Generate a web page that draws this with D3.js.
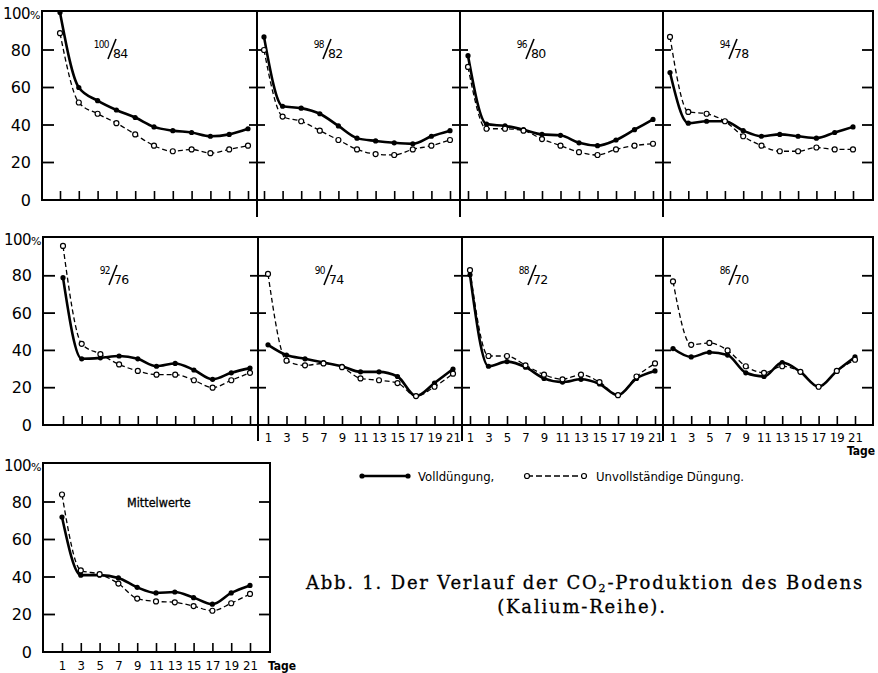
<!DOCTYPE html>
<html>
<head>
<meta charset="utf-8">
<script src="https://cdn.jsdelivr.net/npm/d3@7"></script>
<style>
  body { margin: 0; background: #fff; }
  svg { display: block; }
</style>
</head>
<body>
<div id="chart"></div>
<script>
// days on the x axis, tick values on the y axis
var days = [1, 3, 5, 7, 9, 11, 13, 15, 17, 19, 21];
var yTicks = [20, 40, 60, 80];
var yLabels = [0, 20, 40, 60, 80];

// panel titles (numerator / denominator)
var fractions = [["100", "84"], ["98", "82"], ["96", "80"], ["94", "78"],
                 ["92", "76"], ["90", "74"], ["88", "72"], ["86", "70"]];

// Volldüngung (solid) and Unvollständige Düngung (dashed), % per day
var voll1   = [100, 60, 53, 48, 44, 39, 37, 36, 34, 35, 38];
var unvoll1 = [89, 52, 46, 41, 35, 29, 26, 27, 25, 27, 29];
var voll2   = [87, 50, 49, 46, 39.5, 33, 31.5, 30.5, 30, 34, 37];
var unvoll2 = [80, 44.5, 42, 37, 32, 27, 24.5, 24, 27, 29, 32];
var voll3   = [77, 40.5, 39.5, 37.5, 35, 34.5, 30.5, 29, 32, 37.5, 43];
var unvoll3 = [71, 38, 38, 37, 32.5, 29, 25.5, 24, 27, 29, 30];
var voll4   = [68, 41, 42, 42, 37, 34, 35, 34, 33, 36, 39];
var unvoll4 = [87, 47, 46, 42, 34, 29, 26, 26, 28, 27, 27];
var voll5   = [79, 35.5, 36, 37, 35.5, 31.5, 33, 29.5, 24.5, 28, 30.5];
var unvoll5 = [96, 43.5, 38, 32.5, 29, 27, 27, 24, 20, 24, 28];
var voll6   = [43, 37.5, 35.5, 33.5, 31.5, 28.5, 28.5, 26, 15.5, 22.5, 30];
var unvoll6 = [81, 34.5, 32, 33, 31, 25, 24, 22.5, 15.5, 20.5, 27.5];
var voll7   = [80.5, 31.5, 34, 31, 25, 23, 24.5, 22, 16, 25, 29];
var unvoll7 = [83, 37, 37, 32, 27, 24.5, 27, 23, 16, 26, 33];
var voll8   = [41, 36.5, 39, 37.5, 28, 26, 33.5, 28.5, 20.5, 29, 36.5];
var unvoll8 = [77, 43, 44, 40, 31.5, 28, 31.5, 28.5, 20.5, 29, 35];
var vollMittel   = [72, 41, 41, 39.5, 34.5, 31.5, 32, 29, 25.5, 31.5, 35.5];
var unvollMittel = [84, 43.5, 41.5, 36.5, 28.5, 27, 26.5, 24.5, 22, 26, 31];

var condFont = "DejaVu Sans Condensed, DejaVu Sans, sans-serif";

var svg = d3.select("#chart")
  .append("svg")
  .attr("width", 878)
  .attr("height", 673);

// rows of panels: frame lines, baseline and where day 1 / day 21 sit
var rows = [
  { top: 11, base: 200, y100: 12.5, edges: [42, 257, 460, 663, 873], drop: 17,
    dayPx: [[60, 248], [264, 450], [468, 653], [670, 853]], xLabels: [false, false, false, false],
    data: [[voll1, unvoll1], [voll2, unvoll2], [voll3, unvoll3], [voll4, unvoll4]], titles: [0, 1, 2, 3] },
  { top: 237, base: 425, y100: 238.5, edges: [43, 258, 462, 663, 873], drop: 16,
    dayPx: [[63, 250], [268, 453], [470, 655], [673, 855]], xLabels: [false, true, true, true],
    data: [[voll5, unvoll5], [voll6, unvoll6], [voll7, unvoll7], [voll8, unvoll8]], titles: [4, 5, 6, 7],
    tage: [847, 455], pad: 8 },
  { top: 463, base: 652, y100: 464.5, edges: [43, 270], drop: 0,
    dayPx: [[62, 250]], xLabels: [true],
    data: [[vollMittel, unvollMittel]], titles: [null], tage: [268, 670], pad: 9 }
];

function drawRow(row) {
  var g = svg.append("g");
  var left = row.edges[0], right = row.edges[row.edges.length - 1];
  var y = d3.scaleLinear().domain([0, 100]).range([row.base, row.y100]);

  // y labels on the left
  var yAxis = g.append("g")
    .attr("transform", `translate(${left}, 0)`)
    .call(d3.axisLeft(y).tickValues(yLabels).tickSize(0).tickPadding(11));
  yAxis.select(".domain").remove();
  yAxis.selectAll("text")
    .attr("font-family", "DejaVu Sans, sans-serif")
    .attr("font-size", 16)
    .attr("fill", "#000");

  var hundred = g.append("text")
    .attr("x", left - 2)
    .attr("y", y(100) + 6)
    .attr("text-anchor", "end")
    .attr("font-family", "DejaVu Sans, sans-serif")
    .attr("font-size", 15)
    .attr("letter-spacing", -0.5)
    .text("100");
  hundred.append("tspan").attr("font-size", 11).text("%");

  // frame
  g.append("path")
    .attr("d", `M${left},${row.top}H${right}V${row.base}H${left}Z`)
    .attr("fill", "none")
    .attr("stroke", "#000")
    .attr("stroke-width", 2);

  // dividers reaching below the baseline
  row.edges.slice(1, -1).forEach(function(ex) {
    g.append("line")
      .attr("x1", ex).attr("x2", ex)
      .attr("y1", row.top).attr("y2", row.base + row.drop)
      .attr("stroke", "#000")
      .attr("stroke-width", 2);
  });

  // y tick marks on every vertical line
  row.edges.forEach(function(ex, i) {
    var inL = i === 0 ? 0 : (i === row.edges.length - 1 ? 11 : 8);
    var inR = i === 0 ? 12 : (i === row.edges.length - 1 ? 0 : 8);
    yTicks.forEach(function(t) {
      g.append("line")
        .attr("x1", ex - inL).attr("x2", ex + inR)
        .attr("y1", y(t)).attr("y2", y(t))
        .attr("stroke", "#000")
        .attr("stroke-width", 1.8);
    });
  });

  row.dayPx.forEach(function(r, i) {
    var x = d3.scaleLinear().domain([1, 21]).range(r);

    var xTicks = g.append("g")
      .attr("transform", `translate(0, ${row.base})`)
      .call(d3.axisTop(x).tickValues(days).tickSize(9).tickFormat(""));
    xTicks.select(".domain").remove();
    xTicks.selectAll("line").attr("stroke-width", 1.6);

    if (row.xLabels[i]) {
      var xAxis = g.append("g")
        .attr("transform", `translate(0, ${row.base})`)
        .call(d3.axisBottom(x).tickValues(days).tickSize(0).tickPadding(row.pad));
      xAxis.select(".domain").remove();
      xAxis.selectAll("text")
        .attr("font-family", condFont)
        .attr("font-size", 13)
        .attr("fill", "#000");
    }

    var voll = row.data[i][0].map((v, k) => ({ day: days[k], v: v }));
    var unvoll = row.data[i][1].map((v, k) => ({ day: days[k], v: v }));

    var line = d3.line()
      .x(d => x(d.day))
      .y(d => y(d.v))
      .curve(d3.curveMonotoneX);

    g.append("path")
      .attr("d", line(unvoll))
      .attr("fill", "none")
      .attr("stroke", "#000")
      .attr("stroke-width", 1.3)
      .attr("stroke-dasharray", "5,3");

    g.append("path")
      .attr("d", line(voll))
      .attr("fill", "none")
      .attr("stroke", "#000")
      .attr("stroke-width", 2.6);

    g.selectAll(null)
      .data(voll)
      .enter()
      .append("circle")
      .attr("cx", d => x(d.day))
      .attr("cy", d => y(d.v))
      .attr("r", 2.6)
      .attr("fill", "#000");

    g.selectAll(null)
      .data(unvoll)
      .enter()
      .append("circle")
      .attr("cx", d => x(d.day))
      .attr("cy", d => y(d.v))
      .attr("r", 2.5)
      .attr("fill", "#fff")
      .attr("stroke", "#000")
      .attr("stroke-width", 1.2);

    // panel title written as a fraction: numerator, slanted stroke, denominator
    var t = row.titles[i];
    var ex = row.edges[i], ty = row.top;
    if (t !== null) {
      g.append("text")
        .attr("x", ex + 67)
        .attr("y", ty + 37)
        .attr("text-anchor", "end")
        .attr("font-family", condFont)
        .attr("font-size", 10)
        .attr("letter-spacing", -0.6)
        .text(fractions[t][0]);
      g.append("line")
        .attr("x1", ex + 74).attr("y1", ty + 28)
        .attr("x2", ex + 66).attr("y2", ty + 48)
        .attr("stroke", "#000")
        .attr("stroke-width", 1.6);
      g.append("text")
        .attr("x", ex + 71)
        .attr("y", ty + 47)
        .attr("font-family", "DejaVu Sans, sans-serif")
        .attr("font-size", 12.5)
        .attr("letter-spacing", -0.6)
        .text(fractions[t][1]);
    } else {
      g.append("text")
        .attr("x", ex + 84)
        .attr("y", ty + 44)
        .attr("font-family", condFont)
        .attr("font-size", 12.5)
        .attr("stroke", "#000")
        .attr("stroke-width", 0.3)
        .text("Mittelwerte");
    }
  });

  if (row.tage) {
    g.append("text")
      .attr("x", row.tage[0])
      .attr("y", row.tage[1])
      .attr("font-family", condFont)
      .attr("font-size", 12)
      .attr("font-weight", "bold")
      .text("Tage");
  }
}

rows.forEach(drawRow);

// legend
var legend = svg.append("g")
  .attr("transform", "translate(0, 476)");

legend.append("line")
  .attr("x1", 362).attr("x2", 408).attr("y1", 0).attr("y2", 0)
  .attr("stroke", "#000").attr("stroke-width", 2.4);
legend.selectAll(null)
  .data([362, 408])
  .enter()
  .append("circle")
  .attr("cx", d => d).attr("cy", 0).attr("r", 2.6).attr("fill", "#000");
legend.append("text")
  .attr("x", 418).attr("y", 5)
  .attr("font-family", condFont)
  .attr("font-size", 13)
  .text("Volldüngung,");

legend.append("line")
  .attr("x1", 527).attr("x2", 584).attr("y1", 0).attr("y2", 0)
  .attr("stroke", "#000").attr("stroke-width", 1.3)
  .attr("stroke-dasharray", "6,3");
legend.selectAll(null)
  .data([527, 584])
  .enter()
  .append("circle")
  .attr("cx", d => d).attr("cy", 0).attr("r", 2.5)
  .attr("fill", "#fff").attr("stroke", "#000").attr("stroke-width", 1.2);
legend.append("text")
  .attr("x", 596).attr("y", 5)
  .attr("font-family", condFont)
  .attr("font-size", 13)
  .text("Unvollständige Düngung.");

// caption
var cap = svg.append("text")
  .attr("x", 864)
  .attr("y", 589)
  .attr("text-anchor", "end")
  .attr("font-family", "DejaVu Serif, serif")
  .attr("font-size", 18)
  .attr("letter-spacing", 1.8)
  .attr("stroke", "#000")
  .attr("stroke-width", 0.3)
  .text("Abb. 1.  Der Verlauf der CO");
cap.append("tspan").attr("font-size", 11).attr("dy", 3).text("2");
cap.append("tspan").attr("dy", -3).text("-Produktion des Bodens");

svg.append("text")
  .attr("x", 582)
  .attr("y", 613)
  .attr("text-anchor", "middle")
  .attr("font-family", "DejaVu Serif, serif")
  .attr("font-size", 18)
  .attr("letter-spacing", 1.8)
  .attr("stroke", "#000")
  .attr("stroke-width", 0.3)
  .text("(Kalium-Reihe).");
</script>
</body>
</html>
